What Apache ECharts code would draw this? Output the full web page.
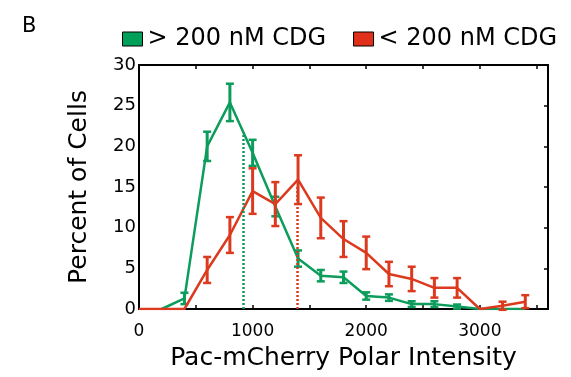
<!DOCTYPE html>
<html>
<head>
<meta charset="utf-8">
<script src="https://cdn.jsdelivr.net/npm/echarts@6/dist/echarts.min.js"></script>
<style>
html,body{margin:0;padding:0;background:#fff;}
#chart{width:571px;height:377px;}
</style>
</head>
<body>
<div id="chart"></div>
<script>
// ---- data ----
const binX = [0, 200, 400, 600, 800, 1000, 1200, 1400, 1600, 1800, 2000, 2200, 2400, 2600, 2800, 3000, 3200, 3400];
const greenName = '> 200 nM CDG';
const redName = '< 200 nM CDG';
const greenVals = [null, 0, 1.3, 20.0, 25.4, 19.2, 12.6, 6.2, 4.1, 3.9, 1.6, 1.4, 0.6, 0.6, 0.3, 0, 0, 0];
const greenErr  = [null, 0, 0.7, 1.8, 2.3, 1.6, 1.2, 1.0, 0.7, 0.7, 0.45, 0.4, 0.35, 0.35, 0.25, 0, 0, 0];
const redVals   = [0, 0, 0, 4.8, 9.1, 14.5, 12.9, 15.9, 11.2, 8.6, 6.9, 4.3, 3.7, 2.6, 2.6, 0, 0.4, 0.9];
const redErr    = [0, 0, 0, 1.6, 2.2, 2.8, 2.7, 3.0, 2.5, 2.2, 2.0, 1.5, 1.5, 1.2, 1.2, 0, 0.5, 0.8];
const medianX   = [920, 1390];
const medianTop = [21.7, 15.0];
const xTickLabels = ['0', '1000', '2000', '3000'];
const yTickLabels = ['0', '5', '10', '15', '20', '25', '30'];

const GREEN = '#0c9c5c';
const RED = '#dc3a1e';
const FONT = 'DejaVu Sans';

function pairs(vals) {
  return binX.map((x, i) => [x, vals[i]]).filter(p => p[1] !== null);
}
function triples(vals, errs) {
  return binX.map((x, i) => [x, vals[i], errs[i]]).filter(p => p[1] !== null && p[2] > 0);
}
function errRender(color) {
  return function (params, api) {
    const x = api.value(0), y = api.value(1), e = api.value(2);
    const top = api.coord([x, y + e]);
    const bot = api.coord([x, y - e]);
    const hw = 4;
    return {
      type: 'group',
      children: [
        {type: 'line', shape: {x1: top[0], y1: top[1], x2: bot[0], y2: bot[1]}, style: {stroke: color, lineWidth: 3}},
        {type: 'line', shape: {x1: top[0] - hw, y1: top[1], x2: top[0] + hw, y2: top[1]}, style: {stroke: color, lineWidth: 2.5}},
        {type: 'line', shape: {x1: bot[0] - hw, y1: bot[1], x2: bot[0] + hw, y2: bot[1]}, style: {stroke: color, lineWidth: 2.5}}
      ]
    };
  };
}

const chart = echarts.init(document.getElementById('chart'), null, {renderer: 'canvas'});
const axisLine = {show: true, onZero: false, lineStyle: {color: '#000', width: 2}};
const inTick = {show: true, inside: true, length: 4, lineStyle: {color: '#000', width: 1.5}};
chart.setOption({
  animation: false,
  backgroundColor: '#fff',
  title: {text: 'B', left: 17, top: 11, textStyle: {fontFamily: FONT, fontSize: 21, fontWeight: 'normal', color: '#000'}},
  legend: {
    left: 117, top: 22, itemWidth: 20, itemHeight: 14, itemGap: 27,
    textStyle: {fontFamily: FONT, fontSize: 24, color: '#000'},
    data: [
      {name: greenName, icon: 'rect', itemStyle: {color: '#00a05a', borderColor: '#000', borderWidth: 1}},
      {name: redName, icon: 'rect', itemStyle: {color: '#e0301c', borderColor: '#000', borderWidth: 1}}
    ]
  },
  grid: {left: 139, right: 23, top: 65, bottom: 68},
  xAxis: [
    {
      type: 'value', min: 0, max: 3600, interval: 500,
      axisLine: axisLine,
      axisTick: inTick,
      splitLine: {show: false},
      axisLabel: {
        margin: 14, fontFamily: FONT, fontSize: 17, color: '#000',
        formatter: v => (xTickLabels.indexOf(String(v)) >= 0 ? String(v) : ''),
        showMaxLabel: false
      },
      name: 'Pac-mCherry Polar Intensity', nameLocation: 'middle', nameGap: 37,
      nameTextStyle: {fontFamily: FONT, fontSize: 25, color: '#000'}
    },
    {
      type: 'value', position: 'top', min: 0, max: 3600, interval: 500,
      axisLine: axisLine,
      axisTick: inTick,
      axisLabel: {show: false}, splitLine: {show: false}
    }
  ],
  yAxis: [
    {
      type: 'value', min: 0, max: 30, interval: 5,
      axisLine: axisLine,
      axisTick: {show: false},
      splitLine: {show: false},
      axisLabel: {
        margin: 3, fontFamily: FONT, fontSize: 18, color: '#000',
        formatter: v => (yTickLabels.indexOf(String(v)) >= 0 ? String(v) : '')
      },
      name: 'Percent of Cells', nameLocation: 'middle', nameGap: 47,
      nameTextStyle: {fontFamily: FONT, fontSize: 25, color: '#000'}
    },
    {
      type: 'value', position: 'right', min: 0, max: 30, interval: 5,
      axisLine: axisLine,
      axisTick: inTick,
      axisLabel: {show: false}, splitLine: {show: false}
    }
  ],
  series: [
    {
      name: greenName, type: 'line', data: pairs(greenVals), symbol: 'none',
      lineStyle: {color: GREEN, width: 2.5}, itemStyle: {color: GREEN}, z: 3,
      markLine: {
        symbol: 'none', silent: true, label: {show: false},
        lineStyle: {color: GREEN, type: [2, 2], width: 2.5},
        data: [[{coord: [medianX[0], 0]}, {coord: [medianX[0], medianTop[0]]}]]
      }
    },
    {
      name: greenName, type: 'custom', data: triples(greenVals, greenErr),
      renderItem: errRender(GREEN), z: 3
    },
    {
      name: redName, type: 'line', data: pairs(redVals), symbol: 'none',
      lineStyle: {color: RED, width: 2.5}, itemStyle: {color: RED}, z: 4,
      markLine: {
        symbol: 'none', silent: true, label: {show: false},
        lineStyle: {color: RED, type: [2, 2], width: 2.5},
        data: [[{coord: [medianX[1], 0]}, {coord: [medianX[1], medianTop[1]]}]]
      }
    },
    {
      name: redName, type: 'custom', data: triples(redVals, redErr),
      renderItem: errRender(RED), z: 4
    }
  ]
});
</script>
</body>
</html>
